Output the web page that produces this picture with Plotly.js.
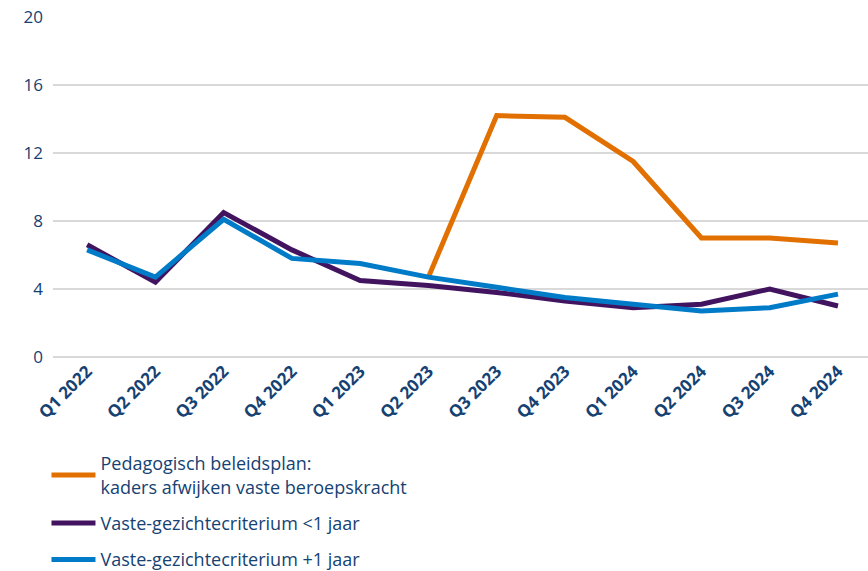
<!DOCTYPE html>
<html>
<head>
<meta charset="utf-8">
<script src="https://cdn.plot.ly/plotly-3.0.1.min.js"></script>
<style>html,body{margin:0;padding:0;background:#fff;}#chart{width:868px;height:571px;}</style>
</head>
<body>
<div id="chart"></div>
<script>
const quarters = ["Q1 2022","Q2 2022","Q3 2022","Q4 2022","Q1 2023","Q2 2023","Q3 2023","Q4 2023","Q1 2024","Q2 2024","Q3 2024","Q4 2024"];
const seriesNames = ["Pedagogisch beleidsplan:<br>kaders afwijken vaste beroepskracht","Vaste-gezichtecriterium <1 jaar","Vaste-gezichtecriterium +1 jaar"];
const pedagogisch = [null,null,null,null,null,4.7,14.2,14.1,11.5,7.0,7.0,6.7];
const vgcKort = [6.6,4.4,8.5,6.3,4.5,4.2,3.8,3.3,2.9,3.1,4.0,3.0];
const vgcLang = [6.3,4.7,8.1,5.8,5.5,4.7,4.1,3.5,3.1,2.7,2.9,3.7];
const yTicks = [0,4,8,12,16,20];
const colors = ["#E17000","#42145F","#007BC7"];

const mk = (y, i) => ({
  x: quarters, y: y, name: seriesNames[i], legendgroup: "g" + i, type: "scatter", mode: "lines",
  line: {color: colors[i], width: 5}, connectgaps: false
});
const data = [mk(pedagogisch,0), mk(vgcKort,1), mk(vgcLang,2)];
const txt = "#154273";
const layout = {
  width: 868, height: 571,
  margin: {l: 53, r: 0, t: 17, b: 214, autoexpand: false},
  paper_bgcolor: "#fff", plot_bgcolor: "#fff",
  font: {family: "Open Sans, sans-serif", color: txt, size: 17},
  showlegend: true,
  legend: {orientation: "v", x: -0.008, xanchor: "left", y: -0.650, yanchor: "bottom",
           font: {size: 18, color: txt}, itemwidth: 44, tracegroupgap: 10},
  xaxis: {type: "category", range: [-0.5, 11.44], tickangle: -45, showgrid: false,
          zeroline: false, showline: false, ticks: "", automargin: false,
          tickfont: {size: 17, color: txt, family: "Open Sans, sans-serif", weight: "bold"}},
  yaxis: {range: [0, 20], tickvals: yTicks, ticktext: yTicks.map(String), showgrid: true,
          gridcolor: "#d9d9d9", gridwidth: 1.5, zeroline: true, zerolinecolor: "#d9d9d9", zerolinewidth: 1.5,
          ticks: "", ticklabelstandoff: 9, automargin: false, tickfont: {size: 17, color: txt}, fixedrange: true}
};
Plotly.newPlot("chart", data, layout, {displayModeBar: false, staticPlot: true});
</script>
</body>
</html>
